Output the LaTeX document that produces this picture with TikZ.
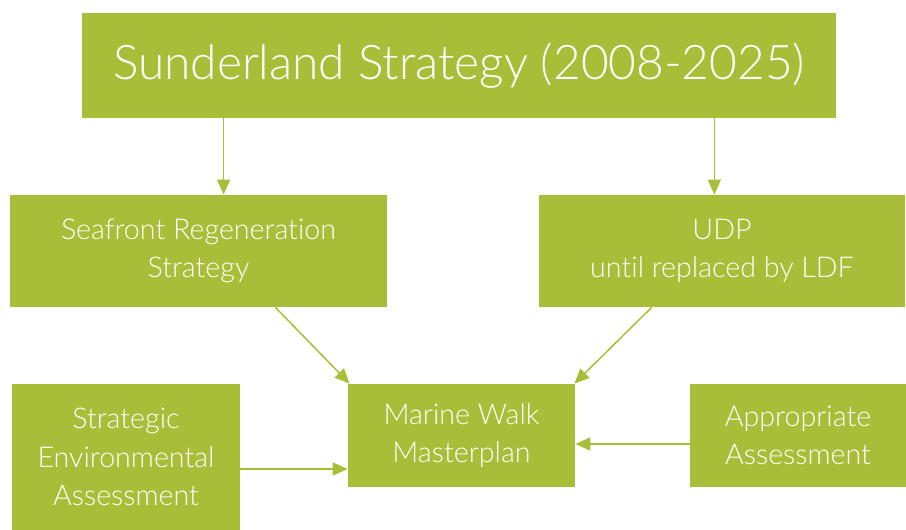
\documentclass[tikz,border=0pt]{standalone}
\usepackage{fontspec}
\setmainfont{Lato}[UprightFont={* Light}, Ligatures={NoCommon}]
\usetikzlibrary{arrows.meta}

\definecolor{leaf}{HTML}{A9BE38}

\tikzset{
	box/.style={fill=leaf, text=white, align=center, inner sep=0pt,
		font=\fontsize{16.3}{22}\selectfont},
	flow/.style={draw=leaf, line width=0.85pt,
		-{Triangle[length=0.3cm, width=0.26cm]}}
}

\begin{document}
\begin{tikzpicture}[x=0.02cm, y=-0.02cm]
	\useasboundingbox (0,0) rectangle (906,530);

	% the strategy on top
	\node[box, minimum width=754*0.02cm, minimum height=105*0.02cm,
		font=\fontsize{27.2}{32}\selectfont] (sus) at (459,65.5) {Sunderland Strategy (2008-2025)};

	% second row
	\node[box, minimum width=377*0.02cm, minimum height=112*0.02cm] (sfr) at (198.5,251)
		{Seafront Regeneration\\Strategy};
	\node[box, minimum width=366*0.02cm, minimum height=112*0.02cm] (udp) at (722,251)
		{UDP\\until replaced by LDF};

	% bottom row
	\node[box, minimum width=228*0.02cm, minimum height=146*0.02cm] (sea) at (126,457)
		{Strategic\\Environmental\\Assessment};
	\node[box, minimum width=227*0.02cm, minimum height=103*0.02cm] (mwm) at (461.5,435.5)
		{Marine Walk\\Masterplan};
	\node[box, minimum width=216*0.02cm, minimum height=103*0.02cm] (app) at (798,435.5)
		{Appropriate\\Assessment};

	% arrows
	\draw[flow] ([xshift=142*0.02cm]sus.south west) -- ([xshift=142*0.02cm]sus.south west |- sfr.north);
	\draw[flow] ([xshift=-122*0.02cm]sus.south east) -- ([xshift=-122*0.02cm]sus.south east |- udp.north);
	\draw[flow] ([xshift=-112*0.02cm]sfr.south east) -- ([xshift=2*0.02cm]mwm.north west);
	\draw[flow] ([xshift=113*0.02cm]udp.south west) -- ([xshift=-1*0.02cm]mwm.north east);
	\draw[flow] ([yshift=-12*0.02cm]sea.east) -- ([yshift=-12*0.02cm]sea.east -| mwm.west);
	\draw[flow] ([yshift=-8.5*0.02cm]app.west) -- ([yshift=-8.5*0.02cm]app.west -| mwm.east);
\end{tikzpicture}
\end{document}
